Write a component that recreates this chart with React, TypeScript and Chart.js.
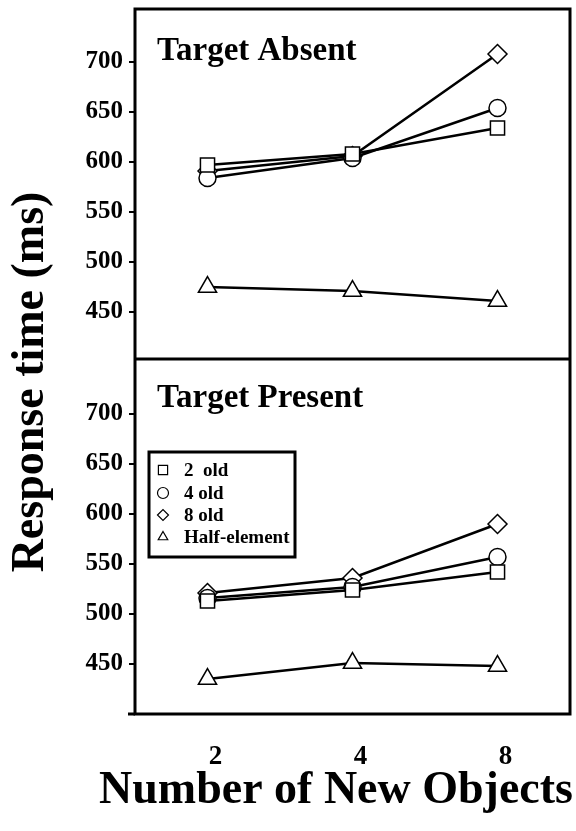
import React, { useEffect, useRef } from 'react';
import { Chart, registerables } from 'chart.js';
import { drawPoint } from 'chart.js/helpers';

Chart.register(...registerables);

// ---- data ----
const categories = ['2', '4', '8'];
const seriesLabels = ['2  old', '4 old', '8 old', 'Half-element'];
const seriesStyles = ['rect', 'circle', 'rectRot', 'triangle'];
const absent2old = [597, 608, 634];
const absent4old = [584, 604, 654];
const absent8old = [591, 606, 708];
const absentHalf = [475, 471, 461];
const present2old = [513, 524, 542];
const present4old = [516, 527, 557];
const present8old = [521, 536, 590];
const presentHalf = [435, 451, 448];
const yTickValues = [450, 500, 550, 600, 650, 700];
const panelTitles = ['Target Absent', 'Target Present'];
const yTitle = 'Response time (ms)';
const xTitle = 'Number of New Objects';

const FONT = '"Liberation Serif", "Times New Roman", serif';

const pointRadii: Record<string, number> = { rect: 10, circle: 8.5, rectRot: 9.5, triangle: 10.5 };

function makeSet(label: string, data: number[], style: string, axis: string) {
  return {
    label,
    data,
    yAxisID: axis,
    borderColor: '#000',
    borderWidth: 2.5,
    backgroundColor: '#fff',
    pointStyle: style,
    pointRadius: pointRadii[style],
    pointBorderWidth: 1.5,
    pointBorderColor: '#000',
    pointBackgroundColor: '#fff',
    tension: 0,
    clip: false,
  };
}

const decorPlugin = {
  id: 'decor',
  beforeDatasetsDraw(chart: any) {
    const { ctx, chartArea } = chart;
    const yA = chart.scales.yA;
    const yB = chart.scales.yB;
    ctx.save();
    ctx.strokeStyle = '#000';
    ctx.lineWidth = 3;
    ctx.strokeRect(chartArea.left, chartArea.top, chartArea.right - chartArea.left, chartArea.bottom - chartArea.top);
    ctx.beginPath();
    ctx.moveTo(chartArea.left, yA.bottom);
    ctx.lineTo(chartArea.right, yA.bottom);
    ctx.moveTo(chartArea.left - 7, chartArea.bottom);
    ctx.lineTo(chartArea.left, chartArea.bottom);
    ctx.stroke();

    ctx.fillStyle = '#000';
    ctx.textAlign = 'left';
    ctx.textBaseline = 'alphabetic';
    ctx.font = `bold 33px ${FONT}`;
    ctx.fillText(panelTitles[0], chartArea.left + 22, yA.top + 51);
    ctx.fillText(panelTitles[1], chartArea.left + 22, yB.top + 48);

    ctx.save();
    ctx.translate(43, 382);
    ctx.rotate(-Math.PI / 2);
    ctx.textAlign = 'center';
    ctx.font = `bold 46px ${FONT}`;
    ctx.fillText(yTitle, 0, 0);
    ctx.restore();

    ctx.textAlign = 'center';
    ctx.font = `bold 46px ${FONT}`;
    ctx.fillText(xTitle, 336, 803);
    ctx.restore();
  },
  afterDatasetsDraw(chart: any) {
    const { ctx } = chart;
    ctx.save();
    const bx = 149, by = 452, bw = 146, bh = 105;
    ctx.fillStyle = '#fff';
    ctx.fillRect(bx, by, bw, bh);
    ctx.strokeStyle = '#000';
    ctx.lineWidth = 3;
    ctx.strokeRect(bx, by, bw, bh);
    const rowY = [470, 493, 515, 537];
    const symR = [6.5, 5.5, 5.5, 5.5];
    ctx.font = `bold 19px ${FONT}`;
    ctx.textBaseline = 'middle';
    ctx.textAlign = 'left';
    for (let i = 0; i < seriesLabels.length; i++) {
      ctx.lineWidth = 1.2;
      ctx.strokeStyle = '#000';
      ctx.fillStyle = '#fff';
      drawPoint(ctx, { pointStyle: seriesStyles[i], radius: symR[i], rotation: 0, borderWidth: 1.2 } as any, 163, rowY[i]);
      ctx.fillStyle = '#000';
      ctx.fillText(seriesLabels[i], 184, rowY[i] + 1);
    }
    ctx.restore();
  },
};

function yScale(min: number, max: number, weight: number, stackWeight: number) {
  return {
    type: 'linear',
    position: 'left',
    stack: 'panels',
    stackWeight,
    weight,
    min,
    max,
    border: { display: false },
    grid: { drawOnChartArea: false, drawTicks: true, tickLength: 6, color: '#000', lineWidth: 2 },
    ticks: {
      color: '#000',
      padding: 6,
      font: { family: FONT, size: 25, weight: 'bold' },
    },
    afterBuildTicks(scale: any) {
      scale.ticks = yTickValues.map((v) => ({ value: v }));
    },
    afterFit(scale: any) {
      scale.width = 135;
      scale.paddingTop = 0;
      scale.paddingBottom = 0;
    },
  };
}

export default function App() {
  const ref = useRef<HTMLCanvasElement | null>(null);
  useEffect(() => {
    if (!ref.current) return;
    const chart = new Chart(ref.current, {
      type: 'line',
      data: {
        labels: categories,
        datasets: [
          makeSet(seriesLabels[0], absent2old, 'rect', 'yA'),
          makeSet(seriesLabels[1], absent4old, 'circle', 'yA'),
          makeSet(seriesLabels[2], absent8old, 'rectRot', 'yA'),
          makeSet(seriesLabels[3], absentHalf, 'triangle', 'yA'),
          makeSet(seriesLabels[0], present2old, 'rect', 'yB'),
          makeSet(seriesLabels[1], present4old, 'circle', 'yB'),
          makeSet(seriesLabels[2], present8old, 'rectRot', 'yB'),
          makeSet(seriesLabels[3], presentHalf, 'triangle', 'yB'),
        ] as any,
      },
      options: {
        animation: false,
        responsive: true,
        maintainAspectRatio: false,
        layout: { autoPadding: false, padding: { top: 9, right: 6, left: 0, bottom: 0 } },
        plugins: { legend: { display: false }, tooltip: { enabled: false }, title: { display: false } },
        scales: {
          x: {
            type: 'category',
            position: 'bottom',
            offset: true,
            border: { display: false },
            grid: { display: false, drawTicks: false },
            ticks: {
              color: '#000',
              padding: 27,
              labelOffset: 8,
              font: { family: FONT, size: 27, weight: 'bold' },
            },
            afterFit(scale: any) {
              scale.height = 117;
              scale.paddingLeft = 0;
              scale.paddingRight = 0;
            },
          },
          yA: yScale(403, 753, 2, 350),
          yB: yScale(400, 755, 1, 355),
        } as any,
      },
      plugins: [decorPlugin],
    });
    return () => chart.destroy();
  }, []);
  return (
    <div style={{ position: 'absolute', left: 0, top: 0, width: 576, height: 831, background: '#fff' }}>
      <canvas ref={ref} />
    </div>
  );
}
